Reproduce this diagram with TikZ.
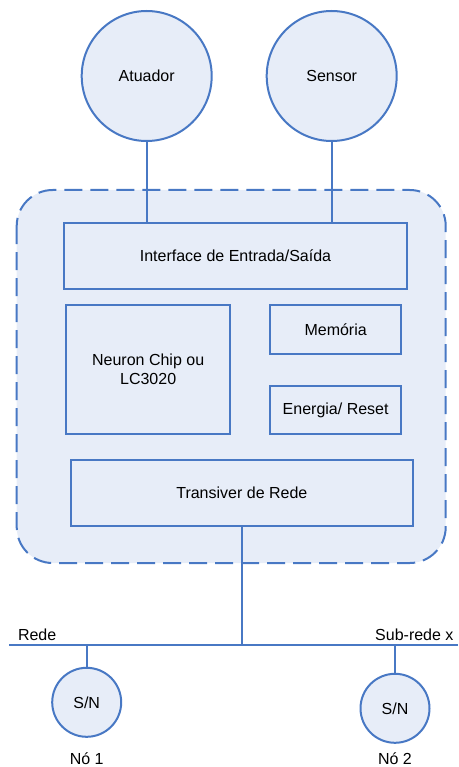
\documentclass[tikz,border=0pt]{standalone}
\usepackage{fontspec}
\setmainfont{Liberation Sans}
\definecolor{edge}{RGB}{72,120,196}
\definecolor{paper}{RGB}{231,237,248}
\begin{document}
\begin{tikzpicture}[x=1pt,y=-1pt,
  every node/.style={font=\fontsize{16}{19}\selectfont, text=black},
  ln/.style={draw=edge, line width=2pt},
  blk/.style={ln, fill=paper, rectangle, inner sep=0pt, anchor=north west},
  circ/.style={ln, fill=paper, circle, inner sep=0pt}]
\useasboundingbox (0,0) rectangle (458,767);
% outer dashed container
\path[draw=edge, line width=2pt, fill=paper, dash pattern=on 18pt off 8pt, rounded corners=36pt]
  (16.7,190) rectangle (445.7,563);
% circles
\node[circ, minimum size=130pt] (atu) at (146.7,76) {Atuador};
\node[circ, minimum size=130pt] (sen) at (331.7,76) {Sensor};
% blocks
\node[blk, minimum width=342.4pt, minimum height=65.4pt] (io) at (63.3,222.3) {};
\node at (io.center) {Interface de Entrada/Saída};
\node[blk, minimum width=164.3pt, minimum height=129.3pt] (chip) at (65,304) {};
\node[align=center] at (chip.center) {Neuron Chip ou\\LC3020};
\node[blk, minimum width=130.7pt, minimum height=48.7pt] (mem) at (269.3,304) {};
\node at (mem.center) {Memória};
\node[blk, minimum width=130.7pt, minimum height=48.3pt] (ene) at (269.3,385) {};
\node at (ene.center) {Energia/ Reset};
\node[blk, minimum width=341.7pt, minimum height=65.7pt] (tra) at (70,459.3) {};
\node at (tra.center) {Transiver de Rede};
% connectors top
\draw[ln] (atu.south) -- (atu.south |- io.north);
\draw[ln] (sen.south) -- (sen.south |- io.north);
% bus
\coordinate (busL) at (9.3,645);
\coordinate (busR) at (458,645);
\draw[ln] (busL) -- (busR);
\draw[ln] (tra.south) -- (tra.south |- busL);
\node[anchor=base west] (rede) at (14.5,640.5) {Rede};
\node[anchor=base east] (sub) at (457,640.5) {Sub-rede x};
% S/N nodes
\node[circ, minimum size=69pt] (sn1) at (86.7,702.3) {S/N};
\node[circ, minimum size=69pt] (sn2) at (395,708.3) {S/N};
\draw[ln] (sn1.north) -- (sn1.north |- busL);
\draw[ln] (sn2.north) -- (sn2.north |- busL);
\node (n1) at (86.7,759) {Nó 1};
\node (n2) at (395,759) {Nó 2};
\end{tikzpicture}
\end{document}
